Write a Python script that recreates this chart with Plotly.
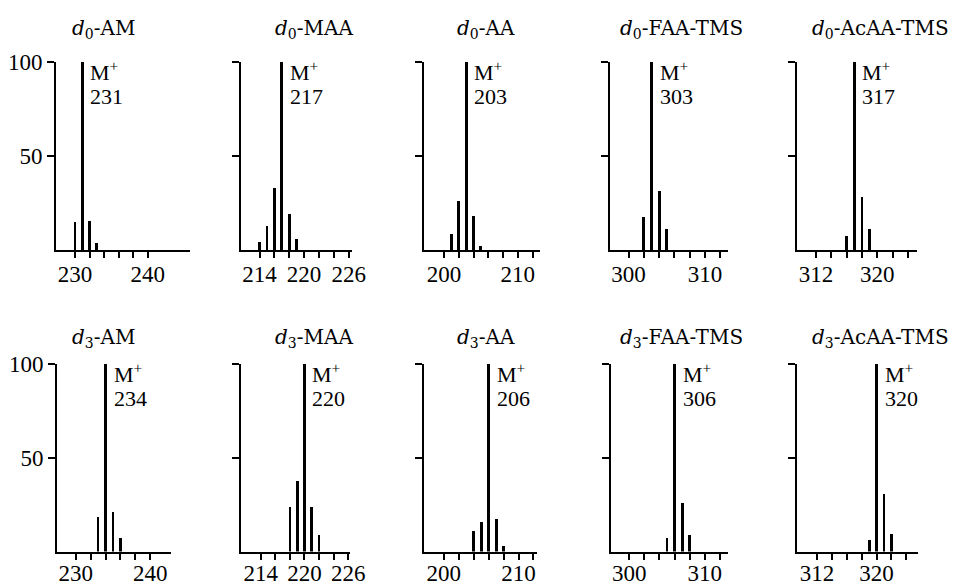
import plotly.graph_objects as go

# ---- data ----
titles = ["<i>d</i><sub>0</sub>-AM", "<i>d</i><sub>0</sub>-MAA", "<i>d</i><sub>0</sub>-AA",
          "<i>d</i><sub>0</sub>-FAA-TMS", "<i>d</i><sub>0</sub>-AcAA-TMS",
          "<i>d</i><sub>3</sub>-AM", "<i>d</i><sub>3</sub>-MAA", "<i>d</i><sub>3</sub>-AA",
          "<i>d</i><sub>3</sub>-FAA-TMS", "<i>d</i><sub>3</sub>-AcAA-TMS"]
mol_ion = [231, 217, 203, 303, 317, 234, 220, 206, 306, 320]

masses_d0_AM = [230, 231, 232, 233]
inten_d0_AM = [15, 100, 15.5, 3.5]
masses_d0_MAA = [214, 215, 216, 217, 218, 219]
inten_d0_MAA = [4, 13, 33, 100, 19, 6]
masses_d0_AA = [201, 202, 203, 204, 205]
inten_d0_AA = [8.4, 26, 100, 18, 2.3]
masses_d0_FAA = [302, 303, 304, 305]
inten_d0_FAA = [17.4, 100, 31.5, 11]
masses_d0_AcAA = [316, 317, 318, 319]
inten_d0_AcAA = [7.4, 100, 28, 11]

masses_d3_AM = [233, 234, 235, 236]
inten_d3_AM = [18.8, 100, 21.5, 7.3]
masses_d3_MAA = [218, 219, 220, 221, 222]
inten_d3_MAA = [23.75, 38, 100, 23.75, 9.3]
masses_d3_AA = [204, 205, 206, 207, 208]
inten_d3_AA = [11.2, 16.2, 100, 17.3, 3.2]
masses_d3_FAA = [305, 306, 307, 308]
inten_d3_FAA = [7.6, 100, 26.3, 8.9]
masses_d3_AcAA = [319, 320, 321, 322]
inten_d3_AcAA = [6.2, 100, 30.9, 9.7]

masses = [masses_d0_AM, masses_d0_MAA, masses_d0_AA, masses_d0_FAA, masses_d0_AcAA,
          masses_d3_AM, masses_d3_MAA, masses_d3_AA, masses_d3_FAA, masses_d3_AcAA]
intens = [inten_d0_AM, inten_d0_MAA, inten_d0_AA, inten_d0_FAA, inten_d0_AcAA,
          inten_d3_AM, inten_d3_MAA, inten_d3_AA, inten_d3_FAA, inten_d3_AcAA]

x_ticks = [list(range(230, 241, 2)), list(range(214, 227, 2)), list(range(200, 213, 2)),
           list(range(300, 313, 2)), list(range(312, 325, 2))] * 2
x_labels = [[230, 240], [214, 220, 226], [200, 210], [300, 310], [312, 320]] * 2
y_ticks = [50, 100]

# ---- layout geometry (reference pixel coords; page body adds an 8px offset) ----
OFF = 8
W, H = 968 - OFF, 583 - OFF
x_px = [(56, 190), (241, 352), (424, 540), (610, 728), (797, 917),
        (57, 171), (241, 350), (424, 537), (611, 728), (797, 918)]
x_ranges = [(227.4, 245.8), (211.5, 226.45), (197.3, 213.0), (297.57, 313.0), (309.5, 325.2),
            (227.48, 242.8), (211.3, 226.24), (197.35, 212.47), (297.59, 313.07), (309.33, 325.56)]
row_px = [(62, 250), (363.5, 551.5)]
row_standoff = [-4, -6]
title_x_px = [103, 314, 486, 681, 880, 103, 314, 486, 681, 880]
title_y_px = [29, 338]


def fx(px):
    return (px - OFF) / W


def fy(py):
    return 1 - (py - OFF) / H


FONT = "Liberation Serif, DejaVu Serif, serif"
TFONT = "DejaVu Serif, Liberation Serif, serif"
FS = 22

fig = go.Figure()
layout = dict(width=W, height=H, margin=dict(l=0, r=0, t=0, b=0, pad=0), template="none",
              paper_bgcolor="white", plot_bgcolor="white", showlegend=False,
              font=dict(family=FONT, size=FS, color="black"), bargap=0)
annotations = []

for i in range(10):
    n = i + 1
    xa = "x" if n == 1 else f"x{n}"
    ya = "y" if n == 1 else f"y{n}"
    row = 0 if i < 5 else 1
    fig.add_trace(go.Bar(x=masses[i], y=intens[i], width=0.38, marker_color="black",
                         marker_line_width=0, xaxis=xa, yaxis=ya, cliponaxis=False))
    x0, x1 = x_px[i]
    t, b = row_px[row]
    ticktext = [str(v) if v in x_labels[i] else "" for v in x_ticks[i]]
    layout["xaxis" if n == 1 else f"xaxis{n}"] = dict(
        domain=[fx(x0), fx(x1)], range=list(x_ranges[i]), anchor=ya, automargin=False,
        showline=True, linecolor="black", linewidth=2, showgrid=False, zeroline=False,
        ticks="outside", ticklen=6, tickwidth=1.5, tickcolor="black",
        ticklabelstandoff=row_standoff[row],
        tickvals=x_ticks[i], ticktext=ticktext, tickfont=dict(family=FONT, size=FS + 1),
        fixedrange=True)
    show_lab = (i % 5 == 0)
    layout["yaxis" if n == 1 else f"yaxis{n}"] = dict(
        domain=[fy(b), fy(t)], range=[0, 100], anchor=xa, automargin=False,
        showline=True, linecolor="black", linewidth=2, showgrid=False, zeroline=False,
        ticks="outside", ticklen=7, tickwidth=1.5, tickcolor="black",
        tickvals=y_ticks, ticktext=[str(v) for v in y_ticks] if show_lab else ["", ""],
        tickfont=dict(family=FONT, size=FS + 1), fixedrange=True)
    annotations.append(dict(xref=xa, yref=ya, x=mol_ion[i], y=100, xanchor="left", yanchor="top",
                            xshift=6, yshift=7, align="left", showarrow=False,
                            text="M<sup>+</sup>",
                            font=dict(family=FONT, size=FS, color="black")))
    annotations.append(dict(xref=xa, yref=ya, x=mol_ion[i], y=100, xanchor="left", yanchor="top",
                            xshift=6, yshift=-20, align="left", showarrow=False,
                            text=str(mol_ion[i]),
                            font=dict(family=FONT, size=FS, color="black")))
    annotations.append(dict(xref="paper", yref="paper", x=fx(title_x_px[i]),
                            y=fy(title_y_px[row]), xanchor="center", yanchor="middle",
                            showarrow=False, text=titles[i],
                            font=dict(family=TFONT, size=20, color="black")))

layout["annotations"] = annotations
fig.update_layout(**layout)
fig.write_html("out.html")
